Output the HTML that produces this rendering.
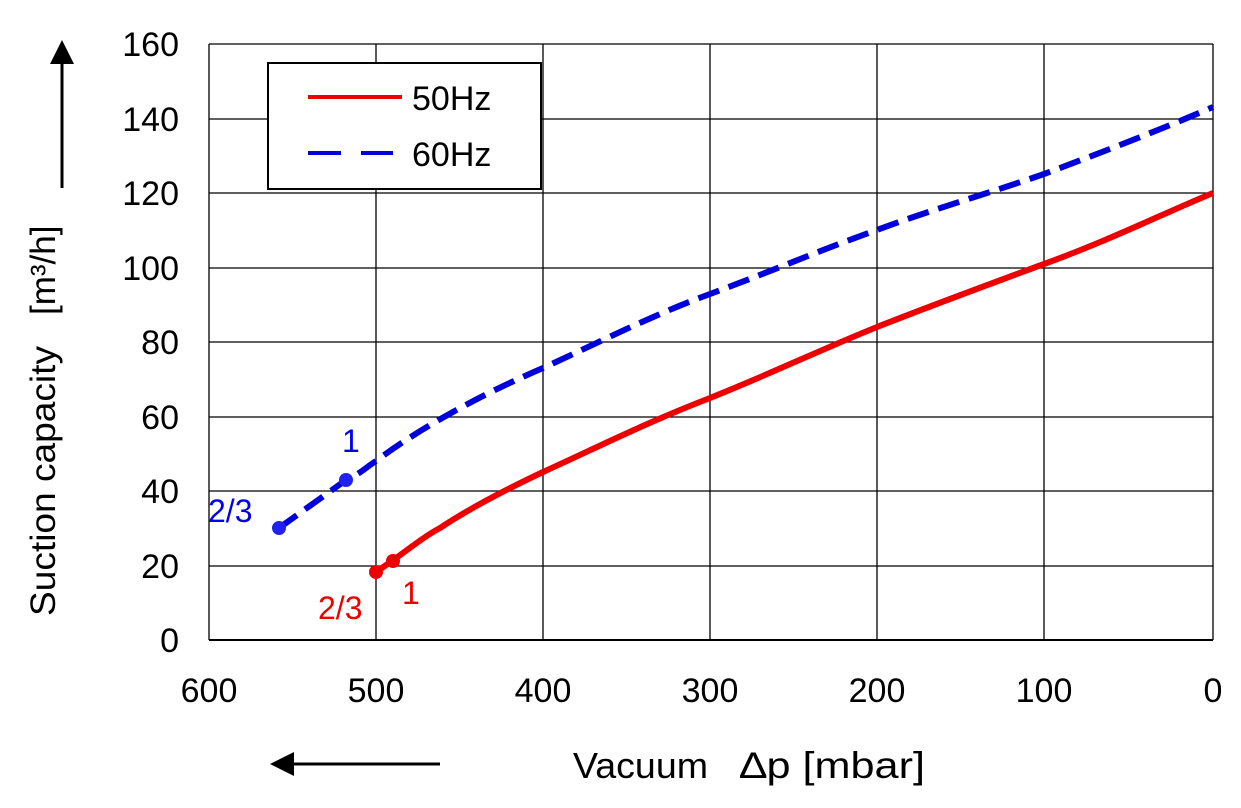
<!DOCTYPE html>
<html><head><style>
body{margin:0;background:#fff;}
svg text{font-family:"Liberation Sans",Arial,sans-serif;}
</style></head><body>
<svg width="1241" height="803" viewBox="0 0 1241 803" xmlns="http://www.w3.org/2000/svg">
<g stroke="#000" stroke-width="1.3" fill="none">
<line x1="209" y1="44" x2="1213" y2="44"/>
<line x1="209" y1="119" x2="1213" y2="119"/>
<line x1="209" y1="193" x2="1213" y2="193"/>
<line x1="209" y1="268" x2="1213" y2="268"/>
<line x1="209" y1="342" x2="1213" y2="342"/>
<line x1="209" y1="417" x2="1213" y2="417"/>
<line x1="209" y1="491" x2="1213" y2="491"/>
<line x1="209" y1="566" x2="1213" y2="566"/>
<line x1="209" y1="640" x2="1213" y2="640" stroke-width="2"/>
<line x1="209" y1="44" x2="209" y2="640"/>
<line x1="376" y1="44" x2="376" y2="640"/>
<line x1="543" y1="44" x2="543" y2="640"/>
<line x1="710" y1="44" x2="710" y2="640"/>
<line x1="877" y1="44" x2="877" y2="640"/>
<line x1="1044" y1="44" x2="1044" y2="640"/>
<line x1="1213" y1="44" x2="1213" y2="640"/>
</g>
<g font-size="34" fill="#000" text-anchor="end">
<text x="179" y="56">160</text><text x="179" y="131">140</text><text x="179" y="205">120</text>
<text x="179" y="280">100</text><text x="179" y="354">80</text><text x="179" y="429">60</text>
<text x="179" y="503">40</text><text x="179" y="578">20</text><text x="179" y="652">0</text>
</g>
<g font-size="34" fill="#000" text-anchor="middle">
<text x="209" y="702">600</text><text x="376" y="702">500</text><text x="543" y="702">400</text>
<text x="710" y="702">300</text><text x="877" y="702">200</text><text x="1044" y="702">100</text><text x="1213" y="702">0</text>
</g>
<rect x="268" y="63" width="273" height="126" fill="#fff" stroke="#000" stroke-width="2"/>
<line x1="308" y1="97" x2="402" y2="97" stroke="#e00" stroke-width="4"/>
<line x1="308" y1="153" x2="393" y2="153" stroke="#00d" stroke-width="4" stroke-dasharray="33,20"/>
<text x="412" y="110" font-size="34">50Hz</text>
<text x="412" y="166" font-size="34">60Hz</text>
<path d="M376,572 L392,561 C410,548 425,536 440,528 C470,508 505,490 543,472 C600,446 650,421 710,398 C770,374 820,350 877,327 C930,306 990,284 1044,264 C1110,240 1160,215 1213,193" fill="none" stroke="#e00" stroke-width="6"/>
<path d="M279,528 L346,480 C360,474 365,468 376,461 C420,428 480,395 543,368 C600,342 650,316 710,294 C770,272 820,250 877,230 C930,210 990,193 1044,174 C1100,153 1160,130 1213,107" fill="none" stroke="#00d" stroke-width="6" stroke-dasharray="22,10"/>
<circle cx="376" cy="572" r="7" fill="#e00"/><circle cx="393" cy="561" r="7" fill="#e00"/>
<circle cx="279" cy="528" r="7" fill="#22e"/><circle cx="346" cy="480" r="7" fill="#22e"/>
<text x="318" y="619" font-size="32" fill="#e00">2/3</text>
<text x="402" y="604" font-size="32" fill="#e00">1</text>
<text x="208" y="522" font-size="32" fill="#00e">2/3</text>
<text x="342" y="452" font-size="32" fill="#00e">1</text>
<line x1="62" y1="188" x2="62" y2="60" stroke="#000" stroke-width="3"/>
<polygon points="62,40 50,64 74,64" fill="#000"/>
<text transform="translate(55,616) rotate(-90)" font-size="35" textLength="270" lengthAdjust="spacingAndGlyphs">Suction capacity</text>
<text transform="translate(55,315) rotate(-90)" font-size="35">[m³/h]</text>
<line x1="440" y1="764" x2="290" y2="764" stroke="#000" stroke-width="3"/>
<polygon points="270,764 294,752 294,776" fill="#000"/>
<text x="573" y="778" font-size="36" textLength="135" lengthAdjust="spacingAndGlyphs">Vacuum</text>
<text x="740" y="778" font-size="37" textLength="185" lengthAdjust="spacingAndGlyphs">∆p [mbar]</text>
</svg>
</body></html>
